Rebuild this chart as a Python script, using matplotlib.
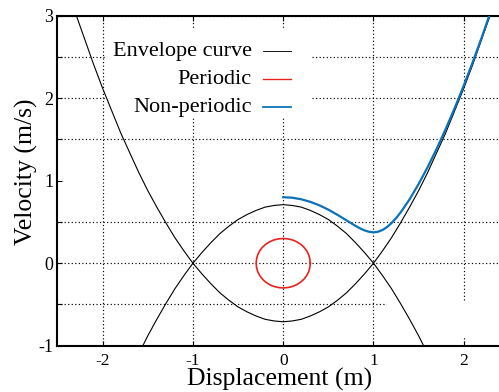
import matplotlib
matplotlib.use("Agg")
import matplotlib.pyplot as plt
from matplotlib.patches import Rectangle
from matplotlib.lines import Line2D

plt.rcParams["font.family"] = ["Liberation Serif", "DejaVu Serif"]
plt.rcParams["axes.unicode_minus"] = False

# envelope (separatrix), x step 0.1
env_x = [-2.4, -2.3, -2.2, -2.1, -2.0, -1.9, -1.8, -1.7, -1.6, -1.5, -1.4, -1.3, -1.2,
         -1.1, -1.0, -0.9, -0.8, -0.7, -0.6, -0.5, -0.4, -0.3, -0.2, -0.1, 0.0,
         0.1, 0.2, 0.3, 0.4, 0.5, 0.6, 0.7, 0.8, 0.9, 1.0, 1.1, 1.2, 1.3, 1.4,
         1.5, 1.6, 1.7, 1.8, 1.9, 2.0, 2.1, 2.2, 2.3, 2.4]
env_up = [3.37, 3.03, 2.72, 2.41, 2.12, 1.85, 1.58, 1.34, 1.10, 0.88, 0.68, 0.49, 0.31,
          0.15, 0.0, -0.13, -0.25, -0.36, -0.45, -0.53, -0.59, -0.64, -0.68, -0.70, -0.71,
          -0.70, -0.68, -0.64, -0.59, -0.53, -0.45, -0.36, -0.25, -0.13, 0.0, 0.15, 0.31,
          0.49, 0.68, 0.88, 1.10, 1.34, 1.58, 1.85, 2.12, 2.41, 2.72, 3.03, 3.37]
env_down = [-3.37, -3.03, -2.72, -2.41, -2.12, -1.85, -1.58, -1.34, -1.10, -0.88, -0.68, -0.49, -0.31,
            -0.15, 0.0, 0.13, 0.25, 0.36, 0.45, 0.53, 0.59, 0.64, 0.68, 0.70, 0.71,
            0.70, 0.68, 0.64, 0.59, 0.53, 0.45, 0.36, 0.25, 0.13, 0.0, -0.15, -0.31,
            -0.49, -0.68, -0.88, -1.10, -1.34, -1.58, -1.85, -2.12, -2.41, -2.72, -3.03, -3.37]

# periodic orbit (small closed loop around the origin)
per_x = [0.300, 0.295, 0.282, 0.260, 0.230, 0.193, 0.150, 0.103, 0.052, 0.0,
         -0.052, -0.103, -0.150, -0.193, -0.230, -0.260, -0.282, -0.295, -0.300,
         -0.295, -0.282, -0.260, -0.230, -0.193, -0.150, -0.103, -0.052, 0.0,
         0.052, 0.103, 0.150, 0.193, 0.230, 0.260, 0.282, 0.295, 0.300]
per_v = [0.0, 0.052, 0.103, 0.150, 0.193, 0.230, 0.260, 0.282, 0.295, 0.300,
         0.295, 0.282, 0.260, 0.230, 0.193, 0.150, 0.103, 0.052, 0.0,
         -0.052, -0.103, -0.150, -0.193, -0.230, -0.260, -0.282, -0.295, -0.300,
         -0.295, -0.282, -0.260, -0.230, -0.193, -0.150, -0.103, -0.052, 0.0]

# non-periodic trajectory starting at (0, 0.8)
np_x = [0.0, 0.1, 0.2, 0.3, 0.4, 0.5, 0.6, 0.7, 0.8, 0.85, 0.9, 0.95, 1.0, 1.05, 1.1,
        1.15, 1.2, 1.25, 1.3, 1.4, 1.5, 1.6, 1.7, 1.8, 1.9, 2.0, 2.1, 2.2, 2.3]
np_v = [0.800, 0.794, 0.775, 0.744, 0.702, 0.649, 0.587, 0.520, 0.453, 0.423, 0.398, 0.381,
        0.374, 0.381, 0.403, 0.438, 0.487, 0.546, 0.615, 0.775, 0.960, 1.165, 1.388, 1.628,
        1.883, 2.154, 2.440, 2.741, 3.057]

labels = ["Envelope curve", "Periodic", "Non-periodic"]
colors = ["black", "#e8231d", "#0b72b9"]
widths = [0.8, 1.2, 1.6]

fig = plt.figure(figsize=(4.99, 3.92), dpi=100)
ax = fig.add_axes([0.1152, 0.1181, 0.8848, 0.8418])

ax.set_xlim(-2.5, 2.39)
ax.set_ylim(-1, 3)
ax.set_xticks([-2, -1, 0, 1, 2])
ax.set_yticks([-1, 0, 1, 2, 3])
ax.set_yticks([-0.5, 0.5, 1.5, 2.5], minor=True)

grid_style = dict(color="black", linestyle=(0, (1, 2)), linewidth=0.85)
ax.grid(True, which="both", axis="y", **grid_style)
ax.grid(True, which="major", axis="x", **grid_style)
ax.yaxis.get_major_ticks()[2].gridline.set_visible(False)  # no line at v=1 in the original
ax.set_axisbelow(True)

# opaque boxes that hide parts of the grid, as in the reference
for (x0, y0, w, h) in [(0.107, 0.693, 0.470, 0.264), (0.747, 0.023, 0.253, 0.109)]:
    ax.add_patch(Rectangle((x0, y0), w, h, transform=ax.transAxes,
                           facecolor="white", edgecolor="none", zorder=1.5))

ax.plot(env_x, env_up, color=colors[0], lw=widths[0], zorder=3)
ax.plot(env_x, env_down, color=colors[0], lw=widths[0], zorder=3)
ax.plot(per_x, per_v, color=colors[1], lw=widths[1], zorder=3)
ax.plot(np_x, np_v, color=colors[2], lw=widths[2], zorder=4)

# gnuplot-style key: right-aligned labels with the samples on their right
for i, lab in enumerate(labels):
    yb = 0.878 - i * 0.085
    ax.text(0.4395, yb, lab, transform=ax.transAxes, ha="right", va="baseline",
            fontsize=16, zorder=5)
    yl = yb + 0.015
    ax.add_line(Line2D([0.4644, 0.53], [yl, yl], transform=ax.transAxes,
                       color=colors[i], lw=widths[i] * 0.8, zorder=5))

for side in ["left", "bottom", "top"]:
    ax.spines[side].set_linewidth(1.5)
ax.spines["right"].set_visible(False)

ax.tick_params(axis="x", which="major", direction="in", top=True, length=3.5, width=0.8,
               labelsize=12.5, pad=5)
ax.tick_params(axis="y", which="both", direction="in", right=False, length=3.5, width=0.8,
               labelsize=13, pad=3)

ax.set_xlabel("Displacement (m)", fontsize=18.5)
ax.xaxis.set_label_coords(0.504, -0.066)
ax.set_ylabel("Velocity (m/s)", fontsize=18.5)
ax.yaxis.set_label_coords(-0.044, 0.526)

fig.savefig("out.png", dpi=100)
